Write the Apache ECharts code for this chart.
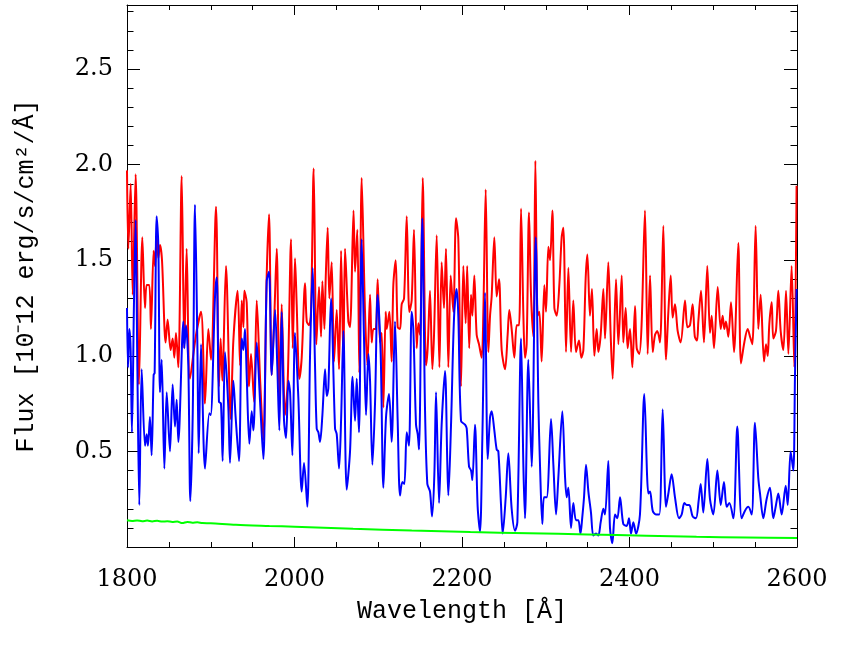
<!DOCTYPE html>
<html>
<head>
<meta charset="utf-8">
<title>Flux spectrum</title>
<script src="https://cdn.jsdelivr.net/npm/echarts@6/dist/echarts.min.js"></script>
<style>
  html, body { margin: 0; padding: 0; background: #fff; }
  #chart { width: 847px; height: 647px; }
</style>
</head>
<body>
<div id="chart"></div>
<script>
// wavelength [Å] / flux [1e-12 erg/s/cm2/Å]
const redWave = [1800.0, 1801.6, 1804.4, 1806.8, 1810.3, 1814.3, 1818.3, 1821.5, 1823.5, 1826.6, 1828.6, 1831.8, 1833.4, 1835.4, 1837.4, 1839.4, 1841.8, 1846.1, 1848.5, 1852.1, 1854.5, 1856.5, 1858.5, 1861.3, 1865.3, 1868.4, 1871.2, 1875.2, 1882.4, 1888.4, 1893.1, 1897.1, 1900.3, 1906.3, 1909.8, 1911.8, 1913.8, 1918.2, 1923.8, 1927.0, 1932.1, 1935.0, 1937.0, 1939.0, 1940.1, 1942.9, 1945.7, 1948.1, 1951.7, 1954.9, 1958.9, 1962.8, 1966.8, 1969.6, 1972.8, 1976.0, 1978.8, 1981.9, 1984.7, 1988.7, 1991.9, 1995.9, 1997.9, 2000.6, 2002.6, 2005.8, 2008.6, 2012.6, 2014.6, 2017.4, 2019.7, 2022.9, 2026.1, 2029.3, 2031.7, 2033.3, 2035.7, 2037.3, 2039.6, 2041.6, 2044.4, 2047.2, 2050.4, 2053.2, 2055.6, 2058.4, 2060.3, 2064.3, 2066.3, 2070.5, 2072.3, 2075.0, 2077.4, 2080.2, 2084.2, 2087.0, 2090.2, 2092.2, 2094.2, 2096.9, 2099.3, 2102.1, 2104.1, 2106.1, 2108.9, 2110.1, 2113.3, 2116.0, 2118.0, 2120.8, 2123.2, 2126.0, 2128.0, 2130.8, 2134.0, 2137.1, 2139.9, 2142.7, 2145.9, 2147.9, 2149.9, 2153.1, 2157.0, 2159.0, 2161.8, 2164.6, 2166.6, 2169.8, 2173.0, 2175.7, 2178.5, 2180.9, 2183.7, 2186.5, 2189.7, 2192.9, 2195.6, 2198.8, 2201.6, 2204.4, 2206.2, 2208.6, 2210.8, 2212.4, 2214.7, 2217.5, 2220.3, 2223.5, 2225.5, 2228.3, 2231.5, 2233.5, 2235.4, 2238.6, 2241.4, 2244.2, 2247.4, 2251.4, 2254.5, 2256.5, 2259.3, 2262.5, 2265.3, 2268.1, 2270.5, 2273.3, 2275.2, 2277.2, 2280.0, 2282.4, 2285.2, 2287.6, 2290.4, 2292.4, 2295.1, 2298.3, 2300.3, 2303.1, 2305.1, 2307.9, 2310.3, 2313.1, 2316.2, 2319.0, 2321.0, 2324.2, 2327.0, 2330.2, 2332.9, 2336.1, 2339.7, 2342.5, 2344.9, 2347.7, 2349.7, 2352.8, 2355.2, 2358.0, 2360.8, 2362.8, 2365.6, 2368.8, 2370.8, 2374.7, 2377.5, 2379.9, 2383.9, 2386.7, 2390.7, 2392.6, 2395.4, 2397.8, 2400.6, 2403.4, 2406.6, 2408.6, 2411.7, 2414.5, 2418.5, 2421.7, 2424.5, 2427.7, 2430.5, 2433.2, 2436.4, 2440.4, 2443.6, 2446.4, 2449.2, 2451.5, 2454.3, 2457.5, 2461.1, 2466.3, 2469.1, 2472.2, 2475.4, 2478.0, 2480.6, 2482.2, 2485.4, 2488.9, 2492.9, 2496.1, 2498.1, 2500.9, 2505.3, 2508.9, 2511.2, 2513.2, 2515.2, 2518.0, 2521.2, 2524.8, 2529.9, 2533.1, 2537.1, 2541.1, 2543.9, 2546.7, 2550.6, 2553.8, 2556.6, 2560.6, 2563.0, 2565.0, 2567.0, 2569.8, 2571.7, 2574.9, 2577.7, 2580.5, 2583.7, 2586.9, 2589.7, 2593.6, 2596.8, 2599.5];
const redFlux = [1.97, 1.56, 1.90, 1.32, 1.95, 0.85, 1.62, 1.25, 1.37, 1.37, 1.14, 1.55, 1.47, 1.63, 1.51, 1.58, 1.50, 1.07, 1.19, 1.03, 1.09, 0.99, 1.12, 0.94, 1.94, 1.04, 1.56, 0.88, 1.11, 1.23, 0.75, 1.14, 0.98, 1.78, 0.84, 1.09, 0.87, 1.47, 0.67, 1.08, 1.34, 0.95, 1.29, 1.15, 1.34, 1.28, 0.84, 1.01, 0.76, 1.29, 0.88, 0.56, 1.42, 1.74, 0.90, 1.22, 1.56, 0.78, 1.27, 0.69, 0.87, 1.61, 1.04, 1.51, 1.27, 0.88, 0.99, 1.38, 1.18, 1.16, 1.23, 1.98, 1.06, 1.36, 1.10, 1.39, 1.14, 1.41, 1.67, 1.30, 1.49, 0.97, 1.24, 0.93, 1.55, 0.97, 1.56, 1.18, 1.15, 1.76, 1.44, 1.66, 0.91, 1.93, 1.23, 0.95, 1.32, 1.07, 1.14, 1.14, 1.40, 1.07, 1.12, 0.73, 1.23, 1.14, 1.23, 0.97, 1.37, 1.50, 1.15, 1.14, 1.27, 1.30, 1.73, 1.23, 1.29, 1.66, 1.04, 1.17, 1.11, 1.93, 0.95, 1.04, 1.34, 0.93, 1.11, 1.63, 0.94, 1.49, 1.25, 1.56, 0.94, 1.42, 1.23, 1.72, 1.61, 0.84, 1.47, 1.17, 1.47, 1.04, 1.32, 1.21, 1.42, 1.11, 1.06, 0.99, 1.23, 1.87, 1.02, 1.21, 1.31, 1.62, 1.31, 1.40, 1.03, 0.93, 1.11, 1.24, 1.14, 0.99, 1.16, 1.16, 1.77, 1.21, 0.99, 1.06, 1.75, 1.32, 1.10, 2.02, 1.21, 1.23, 0.97, 1.37, 1.23, 1.57, 1.50, 1.76, 1.25, 1.21, 1.37, 1.62, 1.67, 1.02, 1.46, 1.02, 1.29, 1.02, 1.08, 0.99, 1.03, 1.41, 1.53, 1.21, 1.35, 1.00, 1.14, 1.02, 1.11, 1.35, 1.09, 1.49, 1.11, 0.88, 1.40, 1.06, 1.42, 1.07, 1.25, 1.04, 1.14, 0.94, 1.26, 1.04, 1.01, 1.17, 1.76, 1.01, 1.42, 1.02, 1.11, 1.13, 1.07, 1.68, 0.98, 1.23, 1.42, 1.20, 1.27, 1.13, 1.07, 1.29, 1.15, 1.16, 1.27, 1.10, 1.08, 1.18, 1.34, 1.07, 1.47, 1.12, 1.21, 1.04, 1.36, 1.14, 1.21, 1.14, 1.18, 1.10, 1.28, 1.02, 1.59, 0.96, 1.07, 1.14, 1.10, 1.06, 1.68, 1.14, 1.32, 0.97, 1.06, 1.00, 1.17, 1.28, 1.09, 1.13, 1.34, 1.13, 1.03, 1.34, 1.01, 1.47, 0.94, 1.89];

const blueWave = [1800.0, 1801.2, 1802.8, 1804.3, 1805.9, 1808.3, 1810.3, 1812.3, 1814.7, 1817.5, 1821.5, 1823.5, 1825.0, 1827.4, 1829.4, 1831.8, 1833.0, 1835.4, 1837.4, 1839.4, 1841.4, 1844.6, 1847.4, 1851.3, 1854.5, 1857.3, 1859.3, 1861.3, 1867.3, 1868.4, 1870.4, 1873.2, 1875.6, 1878.5, 1881.2, 1884.0, 1885.6, 1888.4, 1893.1, 1898.3, 1899.9, 1905.1, 1907.1, 1909.8, 1912.2, 1914.2, 1917.0, 1921.0, 1923.0, 1927.0, 1929.7, 1933.7, 1937.0, 1939.0, 1940.9, 1942.9, 1946.1, 1948.9, 1950.9, 1954.9, 1958.9, 1962.8, 1966.8, 1969.6, 1972.8, 1976.8, 1979.5, 1981.9, 1984.7, 1987.5, 1989.9, 1992.7, 1994.7, 1997.5, 2000.6, 2004.6, 2008.6, 2011.4, 2015.3, 2018.5, 2021.7, 2024.5, 2026.5, 2028.5, 2030.5, 2033.3, 2036.5, 2038.5, 2040.4, 2043.6, 2048.4, 2050.4, 2053.2, 2055.6, 2058.4, 2062.3, 2066.3, 2069.3, 2072.3, 2074.3, 2077.0, 2080.2, 2083.0, 2085.4, 2088.2, 2090.2, 2093.0, 2096.2, 2099.3, 2102.9, 2106.1, 2109.3, 2112.9, 2116.0, 2120.0, 2123.2, 2126.0, 2128.8, 2131.2, 2134.0, 2136.7, 2139.9, 2141.9, 2145.1, 2147.1, 2148.7, 2152.6, 2155.8, 2158.6, 2161.8, 2164.2, 2167.0, 2169.0, 2172.6, 2175.7, 2179.7, 2182.5, 2183.7, 2186.9, 2190.5, 2193.6, 2195.6, 2198.8, 2203.6, 2205.6, 2208.4, 2210.8, 2212.4, 2215.5, 2218.7, 2221.5, 2224.3, 2227.5, 2230.7, 2233.5, 2235.4, 2238.6, 2241.4, 2243.4, 2246.6, 2248.6, 2252.2, 2255.3, 2259.3, 2263.3, 2266.1, 2270.5, 2273.3, 2275.2, 2279.2, 2283.2, 2288.0, 2291.2, 2293.2, 2295.9, 2297.9, 2301.1, 2306.3, 2309.1, 2312.3, 2315.0, 2319.8, 2323.0, 2325.0, 2327.0, 2330.2, 2332.9, 2336.1, 2338.9, 2341.5, 2343.5, 2345.7, 2348.1, 2350.9, 2354.0, 2356.8, 2360.0, 2362.8, 2365.6, 2368.8, 2370.8, 2374.7, 2376.7, 2379.5, 2382.7, 2385.5, 2388.7, 2392.6, 2396.6, 2399.4, 2401.8, 2404.6, 2407.8, 2412.5, 2417.7, 2422.5, 2424.5, 2427.7, 2431.6, 2435.6, 2439.6, 2443.6, 2446.4, 2450.3, 2454.3, 2459.1, 2462.3, 2465.5, 2468.3, 2471.4, 2475.4, 2479.4, 2482.5, 2485.0, 2488.1, 2492.9, 2496.1, 2500.1, 2504.9, 2508.9, 2512.8, 2516.0, 2519.2, 2524.0, 2528.7, 2533.9, 2537.9, 2541.9, 2545.9, 2549.8, 2553.8, 2555.8, 2559.8, 2563.7, 2567.7, 2571.7, 2574.9, 2577.7, 2581.7, 2586.5, 2588.9, 2592.4, 2595.6, 2597.6, 2599.5];
const blueFlux = [1.25, 0.94, 1.14, 1.04, 0.60, 1.27, 1.71, 0.97, 0.22, 0.93, 0.53, 0.59, 0.53, 0.68, 0.48, 0.90, 0.91, 1.73, 1.58, 0.81, 0.98, 0.41, 0.81, 0.50, 0.85, 0.63, 0.77, 0.55, 1.18, 1.04, 1.16, 0.95, 0.24, 0.70, 1.79, 1.07, 0.49, 1.06, 0.41, 0.70, 0.69, 1.31, 1.41, 0.76, 0.75, 0.45, 1.02, 0.73, 0.44, 0.87, 0.68, 0.45, 1.09, 1.03, 1.14, 0.90, 0.54, 0.71, 0.61, 1.07, 0.76, 0.46, 1.39, 1.44, 0.90, 1.24, 0.94, 0.61, 1.23, 0.66, 0.57, 0.87, 0.81, 0.48, 1.12, 0.78, 0.29, 0.44, 0.21, 0.99, 1.46, 0.95, 0.62, 0.60, 0.55, 0.69, 0.93, 0.79, 0.83, 1.30, 0.62, 0.59, 0.41, 0.66, 1.13, 0.30, 0.50, 0.89, 0.66, 0.88, 0.60, 1.61, 1.09, 0.69, 1.01, 0.87, 0.43, 0.76, 1.32, 1.01, 0.31, 0.68, 0.80, 0.55, 1.18, 0.66, 0.27, 0.34, 0.33, 0.60, 0.53, 1.23, 1.14, 0.64, 0.59, 0.51, 1.72, 0.73, 0.33, 0.29, 0.16, 0.38, 0.81, 0.23, 0.64, 0.92, 0.43, 0.27, 0.64, 1.20, 1.35, 1.21, 0.66, 0.64, 0.62, 0.42, 0.40, 0.35, 0.64, 0.21, 0.08, 0.57, 1.33, 0.46, 0.68, 0.71, 0.61, 0.51, 0.50, 0.22, 0.07, 0.26, 0.49, 0.20, 0.085, 0.13, 1.09, 0.42, 0.15, 0.98, 0.42, 1.62, 0.75, 0.42, 0.12, 0.26, 0.26, 0.67, 0.43, 0.17, 0.36, 0.71, 0.37, 0.26, 0.31, 0.10, 0.23, 0.14, 0.14, 0.07, 0.15, 0.26, 0.43, 0.29, 0.18, 0.06, 0.07, 0.06, 0.13, 0.20, 0.17, 0.45, 0.10, 0.02, 0.17, 0.15, 0.26, 0.12, 0.11, 0.15, 0.07, 0.13, 0.07, 0.17, 0.80, 0.28, 0.29, 0.19, 0.17, 0.17, 0.72, 0.21, 0.28, 0.38, 0.26, 0.15, 0.17, 0.23, 0.22, 0.22, 0.16, 0.15, 0.24, 0.33, 0.18, 0.46, 0.25, 0.17, 0.40, 0.22, 0.34, 0.21, 0.23, 0.15, 0.63, 0.15, 0.19, 0.21, 0.17, 0.65, 0.36, 0.28, 0.15, 0.25, 0.31, 0.15, 0.22, 0.28, 0.17, 0.32, 0.22, 0.50, 0.40, 0.90, 1.35];

const greenWave = [1800, 1806, 1812, 1818, 1824, 1830, 1836, 1842, 1848, 1854, 1860, 1866, 1872, 1878, 1884, 1890, 1900, 1930, 1970, 2000, 2070, 2140, 2210, 2280, 2350, 2420, 2480, 2540, 2600];
const greenFlux = [0.140, 0.136, 0.139, 0.135, 0.138, 0.134, 0.137, 0.133, 0.135, 0.131, 0.133, 0.125, 0.131, 0.127, 0.129, 0.125, 0.124, 0.116, 0.110, 0.106, 0.095, 0.086, 0.078, 0.072, 0.066, 0.059, 0.053, 0.050, 0.047];

// tick labels
const xTicks = [1800, 2000, 2200, 2400, 2600];
const yTicks = [0.5, 1.0, 1.5, 2.0, 2.5];

const tickFont = 'DejaVu Serif';
const titleFont = 'Liberation Mono';
const zip = (xs, ys) => xs.map((x, i) => [x, ys[i]]);

const chart = echarts.init(document.getElementById('chart'), null, { renderer: 'canvas' });

// IDL-style box: ticks inside on all four sides
function xAx(pos, withLabels) {
  return {
    type: 'value', position: pos, min: 1800, max: 2600, interval: 200,
    axisLine: { show: true, onZero: false, lineStyle: { color: '#000', width: 1 } },
    axisTick: { show: true, inside: true, length: 10, lineStyle: { color: '#000', width: 1 } },
    minorTick: { show: true, splitNumber: 4, length: 5, lineStyle: { color: '#000', width: 1 } },
    splitLine: { show: false },
    axisLabel: {
      show: withLabels, color: '#000', fontSize: 24, fontFamily: tickFont, margin: 21,
      formatter: v => xTicks.includes(v) ? String(v) : ''
    },
    name: withLabels ? 'Wavelength [Å]' : '',
    nameLocation: 'middle', nameGap: 52,
    nameTextStyle: { color: '#000', fontSize: 25, fontFamily: titleFont }
  };
}
function yAx(pos, withLabels) {
  return {
    type: 'value', position: pos, min: 0, max: 2.835, interval: 0.5,
    axisLine: { show: true, onZero: false, lineStyle: { color: '#000', width: 1 } },
    axisTick: { show: true, inside: true, length: 13, lineStyle: { color: '#000', width: 1 } },
    minorTick: { show: true, splitNumber: 5, length: 6.5, lineStyle: { color: '#000', width: 1 } },
    splitLine: { show: false },
    axisLabel: {
      show: withLabels, color: '#000', fontSize: 24, fontFamily: tickFont, margin: 14,
      showMinLabel: false, showMaxLabel: false,
      formatter: v => yTicks.some(t => Math.abs(t - v) < 1e-6) ? v.toFixed(1) : ''
    },
    name: withLabels ? 'Flux [10⁻12 erg/s/cm²/Å]' : '',
    nameLocation: 'middle', nameGap: 88,
    nameTextStyle: { color: '#000', fontSize: 25, fontFamily: titleFont }
  };
}

const line = (name, xs, ys, color) => ({
  name: name, type: 'line', data: zip(xs, ys),
  showSymbol: false, smooth: 0.3, clip: true,
  lineStyle: { color: color, width: 2 }
});

const option = {
  animation: false,
  backgroundColor: '#fff',
  grid: { left: 127, right: 50, top: 5, bottom: 100, containLabel: false },
  xAxis: [xAx('bottom', true), xAx('top', false)],
  yAxis: [yAx('left', true), yAx('right', false)],
  series: [
    line('red', redWave, redFlux, '#ff0000'),
    line('blue', blueWave, blueFlux, '#0000ff'),
    line('green', greenWave, greenFlux, '#00ff00')
  ]
};
chart.setOption(option);
</script>
</body>
</html>
